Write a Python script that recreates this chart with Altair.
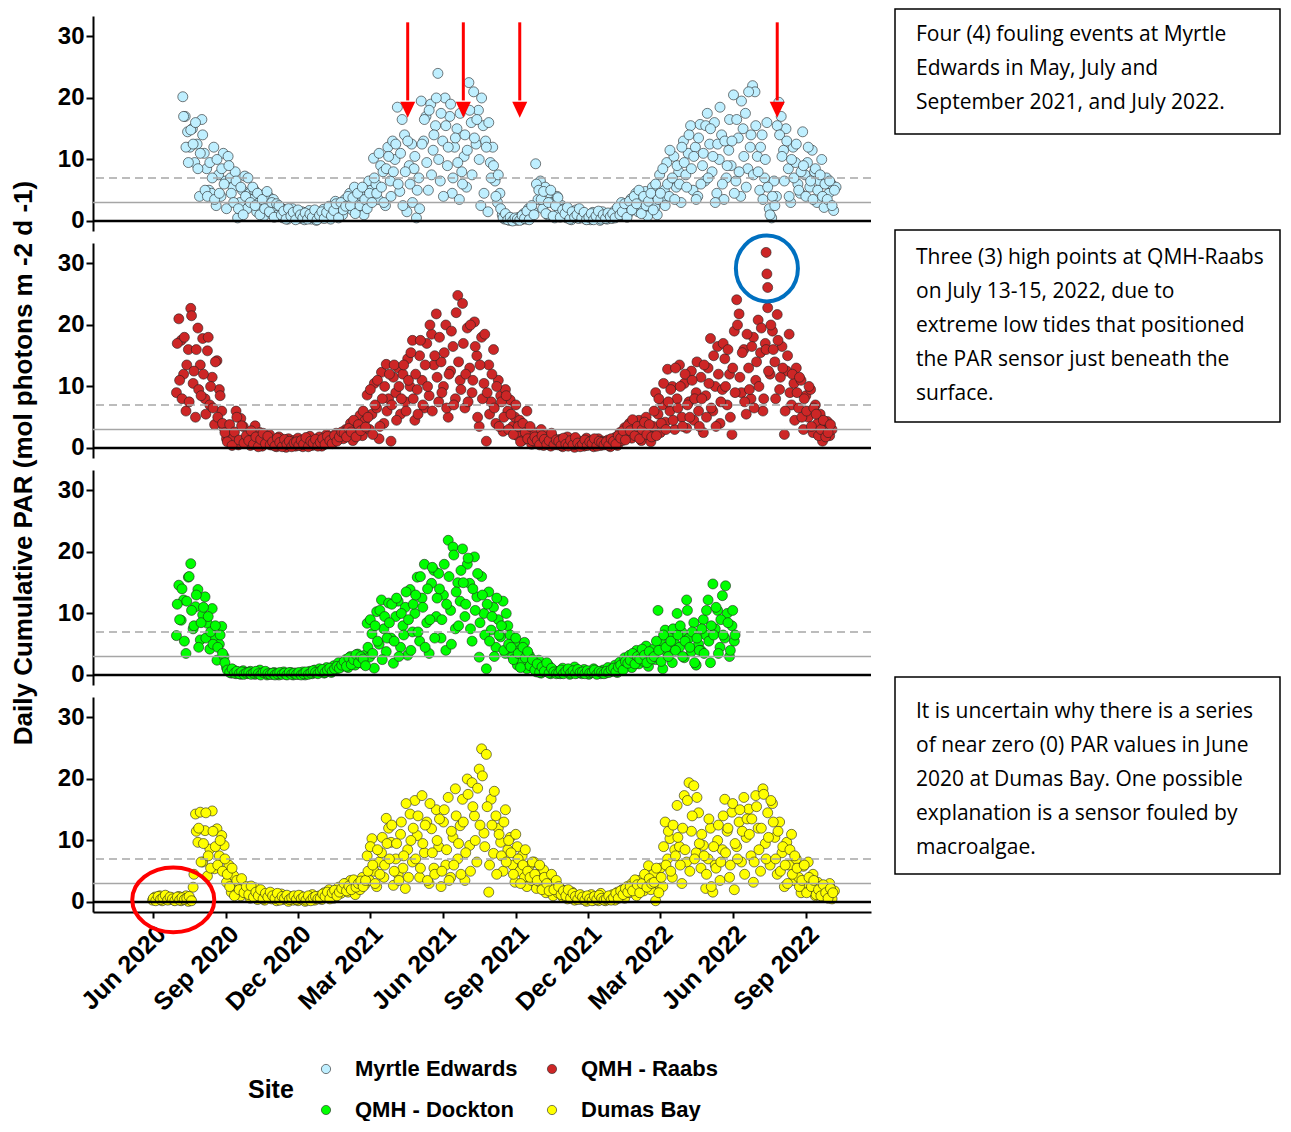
import altair as alt
import pandas as pd

# ---------------- data ----------------
SITES = ["Myrtle Edwards", "QMH - Raabs", "QMH - Dockton", "Dumas Bay"]
COLORS = ["#BFEFFF", "#CD2626", "#00FF00", "#FFFF00"]
# legend is laid out column by column, so this order gives the reference rows
LEGEND_ORDER = ["Myrtle Edwards", "QMH - Dockton", "QMH - Raabs", "Dumas Bay"]
STEP_DAYS = 3

# two interleaved readings per site (series A and series B, one day apart)
ME_START_A = "2020-07-09"
ME_VALUES_A = [
    20.2, 17.0, 14.5, 12.0, 15.0, 9.5, 12.5, 4.0, 16.5, 11.0,
    8.5, 5.0, 4.5, 12.0, 2.5, 7.5, 4.0, 11.0, 6.5, 10.5,
    7.0, 5.5, 8.0, 0.5, 3.0, 5.0, 7.3, 2.0, 4.5, 3.5,
    5.0, 1.5, 3.0, 4.2, 0.8, 2.5, 4.0, 1.2, 3.5, 2.0,
    1.0, 2.2, 0.5, 1.8, 0.3, 1.5, 2.0, 0.6, 1.2, 0.4,
    1.5, 0.2, 0.9, 1.7, 0.3, 1.0, 0.1, 1.4, 0.5, 1.9,
    0.6, 1.1, 0.3, 2.0, 3.2, 1.5, 2.6, 1.0, 3.5, 2.2,
    4.5, 1.8, 5.5, 3.0, 2.0, 4.0, 1.0, 3.2, 6.5, 5.0,
    10.2, 6.0, 3.5, 9.0, 8.0, 2.5, 12.0, 6.5, 13.0, 10.0,
    18.5, 4.8, 16.5, 14.0, 1.5, 9.0, 12.5, 8.5, 0.5, 7.0,
    19.5, 13.0, 17.0, 5.0, 19.0, 11.5, 15.5, 24.0, 6.5, 13.0,
    20.0, 9.0, 17.0, 4.5, 12.0, 15.0, 3.5, 8.0, 10.5, 5.5,
    22.5, 16.0, 21.0, 12.5, 18.0, 2.5, 15.5, 13.0, 1.5, 9.5,
    12.0, 6.5, 3.0, 4.5, 1.0, 0.3, 0.8, 0.1, 0.4, 0.2,
    0.1, 0.6, 0.2, 1.2, 0.3, 2.0, 0.8, 1.5, 9.3, 3.5,
    6.5, 2.0, 5.5, 1.0, 4.5, 3.0, 0.5, 4.0, 1.5, 2.5,
    2.0, 0.5, 1.5, 0.2, 1.0, 1.8, 0.4, 1.2, 0.7, 0.3,
    1.0, 0.2, 1.4, 0.5, 0.9, 0.1, 1.5, 0.6, 0.3, 1.1,
    0.4, 1.6, 0.8, 1.8, 3.0, 0.9, 2.2, 1.3, 3.6, 2.5,
    4.5, 1.5, 3.5, 2.0, 4.8, 0.8, 3.0, 5.5, 2.2, 1.0,
    7.5, 3.5, 5.0, 9.5, 4.0, 6.5, 10.5, 5.5, 8.0, 3.0,
    13.0, 7.5, 11.0, 15.5, 5.0, 12.0, 4.0, 15.7, 9.0, 6.5,
    17.5, 12.5, 8.0, 16.0, 4.5, 10.0, 14.0, 3.5, 7.0, 11.5,
    9.0, 20.5, 6.5, 13.5, 4.0, 15.0, 17.5, 8.5, 12.0, 22.0,
    21.0, 10.5, 5.0, 14.0, 7.0, 16.0, 2.0, 0.5, 6.5, 4.0,
    19.3, 17.0, 11.5, 15.0, 8.5, 3.0, 12.0, 9.5, 6.0, 4.5,
    14.5, 7.5, 9.5, 5.5, 11.5, 8.0, 3.0, 6.5, 10.0, 2.2,
    7.0, 4.5, 6.0, 1.7, 5.5,
]
ME_START_B = "2020-07-10"
ME_VALUES_B = [
    17.0, 12.0, 9.5, 14.8, 12.5, 16.0, 8.5, 11.0, 14.0, 5.0,
    4.0, 9.5, 7.0, 3.5, 10.0, 4.5, 8.5, 6.0, 2.0, 9.0,
    4.5, 3.0, 6.5, 2.0, 5.5, 1.0, 4.0, 7.0, 3.0, 5.5,
    2.5, 4.5, 1.0, 3.5, 2.0, 4.8, 1.5, 3.0, 0.6, 2.8,
    2.5, 1.0, 1.6, 0.3, 2.0, 0.8, 1.4, 0.2, 1.8, 1.0,
    0.5, 1.3, 0.3, 1.1, 0.6, 1.8, 0.2, 0.9, 1.5, 0.4,
    1.4, 2.4, 0.8, 1.7, 2.8, 0.5, 3.0, 1.8, 2.4, 4.0,
    2.5, 3.8, 1.2, 4.5, 2.5, 5.5, 3.5, 2.0, 4.5, 3.0,
    7.0, 4.5, 11.0, 5.5, 3.0, 8.5, 10.5, 4.0, 8.0, 12.5,
    6.0, 11.0, 2.5, 8.0, 13.0, 6.0, 3.0, 10.5, 5.0, 2.0,
    12.5, 16.5, 9.5, 18.0, 7.5, 14.0, 20.0, 10.0, 17.5, 4.0,
    15.5, 12.0, 19.0, 7.0, 13.5, 9.5, 17.5, 6.0, 14.0, 11.5,
    18.0, 7.5, 13.5, 16.5, 10.0, 20.0, 4.5, 12.0, 16.0, 7.0,
    9.0, 4.0, 7.5, 2.0, 0.5, 1.2, 0.2, 0.6, 0.0, 0.5,
    0.3, 0.1, 0.9, 0.4, 1.6, 0.2, 2.5, 1.0, 6.0, 5.0,
    3.5, 4.8, 1.2, 3.0, 5.0, 0.8, 2.5, 3.8, 0.6, 1.8,
    1.2, 2.2, 0.3, 1.5, 0.6, 1.0, 2.0, 0.5, 1.4, 0.2,
    0.6, 1.2, 0.2, 0.8, 1.6, 0.3, 1.0, 0.4, 1.3, 0.7,
    1.2, 0.5, 2.2, 1.0, 1.5, 2.8, 0.6, 3.2, 1.8, 4.0,
    2.8, 5.0, 1.2, 4.0, 2.5, 3.2, 4.5, 1.8, 6.0, 3.5,
    4.5, 8.5, 2.5, 6.0, 11.5, 7.0, 3.5, 9.0, 6.0, 12.0,
    9.5, 5.5, 14.0, 8.5, 10.5, 3.5, 13.5, 6.0, 11.0, 15.5,
    7.0, 15.0, 10.5, 3.0, 12.5, 18.5, 6.0, 13.0, 9.0, 16.5,
    13.0, 4.5, 16.5, 8.0, 19.5, 10.5, 5.5, 21.0, 14.0, 7.5,
    15.5, 8.0, 12.0, 3.5, 10.0, 5.5, 1.0, 4.0, 2.5, 15.5,
    14.0, 10.5, 6.5, 13.0, 4.0, 10.0, 7.0, 12.5, 5.0, 8.0,
    9.0, 4.0, 12.0, 6.5, 3.5, 8.5, 5.0, 7.5, 4.0, 6.0,
    3.5, 6.5, 2.5, 5.0,
]

QR_START_A = "2020-07-01"
QR_VALUES_A = [
    9.0, 21.0, 17.5, 12.0, 6.0, 16.0, 22.7, 10.5, 5.0, 19.5,
    13.5, 17.8, 8.0, 15.8, 7.0, 11.5, 3.8, 14.2, 9.5, 6.0,
    3.2, 1.5, 2.2, 0.8, 1.8, 6.0, 0.5, 4.8, 3.5, 1.2,
    2.0, 0.4, 1.5, 3.6, 0.9, 2.5, 0.3, 1.7, 1.0, 2.2,
    0.5, 1.3, 0.2, 1.8, 0.7, 1.0, 0.1, 1.5, 0.6, 1.2,
    0.3, 1.6, 0.8, 0.2, 1.3, 0.5, 1.9, 0.4, 1.0, 0.7,
    1.8, 0.3, 1.2, 2.2, 0.8, 1.6, 1.0, 2.4, 1.4, 2.0,
    1.5, 3.0, 2.2, 4.0, 1.2, 3.5, 2.6, 5.3, 2.0, 4.4,
    8.6, 3.0, 5.5, 10.5, 6.5, 1.5, 12.3, 4.0, 13.6, 8.0,
    1.1, 11.5, 9.0, 13.0, 5.5, 12.0, 7.5, 14.5, 10.0, 17.5,
    4.5, 9.5, 15.0, 11.0, 6.5, 17.0, 8.5, 18.5, 13.5, 21.8,
    7.5, 14.0, 10.0, 20.0, 5.0, 12.5, 16.5, 8.0, 24.8, 11.0,
    23.5, 6.5, 19.5, 13.0, 9.0, 20.5, 15.0, 3.5, 18.0, 10.5,
    1.1, 13.5, 7.5, 16.0, 4.0, 11.0, 8.5, 2.7, 9.5, 6.0,
    7.8, 3.5, 5.0, 2.0, 4.5, 1.2, 3.0, 6.0, 1.8, 0.6,
    2.5, 0.8, 1.5, 3.0, 0.4, 2.2, 1.0, 0.3, 1.7, 0.9,
    0.5, 1.4, 0.2, 1.1, 1.8, 0.6, 0.9, 0.1, 1.3, 0.7,
    1.0, 0.3, 1.6, 0.5, 1.2, 0.2, 0.8, 1.5, 0.4, 1.1,
    0.6, 1.3, 0.2, 0.9, 1.7, 0.4, 2.5, 1.2, 3.3, 2.0,
    4.0, 1.6, 3.0, 2.2, 4.5, 1.2, 3.6, 5.0, 2.4, 1.0,
    3.5, 9.0, 5.5, 2.5, 7.0, 4.2, 12.8, 6.0, 10.0, 3.0,
    8.0, 13.5, 5.0, 10.5, 3.2, 7.5, 12.5, 4.5, 9.0, 6.0,
    11.5, 2.5, 8.5, 13.0, 17.8, 6.0, 10.0, 16.5, 4.0, 9.5,
    14.5, 7.0, 12.0, 2.2, 19.0, 24.1, 21.8, 9.0, 16.0, 5.5,
    13.0, 8.0, 18.0, 11.0, 20.8, 15.5, 6.0, 17.0, 22.8, 12.0,
    19.0, 14.0, 21.7, 9.5, 16.5, 2.2, 12.5, 18.5, 7.0, 10.5,
    13.0, 6.5, 11.0, 3.0, 8.5, 5.0, 9.5, 2.5, 7.0, 4.0,
    5.5, 1.1, 3.5, 4.3, 2.0, 3.0,
]
QR_START_B = "2020-07-02"
QR_VALUES_B = [
    17.0, 11.0, 8.0, 18.0, 13.5, 7.5, 21.5, 12.5, 16.0, 9.5,
    8.5, 12.0, 5.5, 18.0, 10.0, 6.5, 14.0, 5.0, 8.5, 4.0,
    2.5, 1.0, 3.8, 0.4, 2.6, 5.0, 1.3, 3.6, 0.8, 2.0,
    1.2, 2.8, 0.6, 1.8, 0.2, 1.4, 2.4, 0.7, 1.9, 0.5,
    1.0, 0.3, 1.6, 0.9, 0.2, 1.4, 0.6, 1.1, 0.2, 0.8,
    1.0, 0.4, 1.2, 0.6, 1.7, 0.2, 1.1, 0.8, 1.4, 0.3,
    0.9, 1.5, 0.6, 1.9, 1.2, 0.7, 2.0, 1.1, 1.8, 2.6,
    2.4, 1.8, 3.2, 2.6, 4.5, 1.8, 3.8, 2.8, 6.0, 3.4,
    5.0, 9.5, 2.2, 7.0, 11.0, 3.5, 8.0, 10.0, 6.0, 12.0,
    7.0, 13.5, 4.5, 10.0, 8.0, 13.5, 6.0, 11.0, 15.5, 8.0,
    12.0, 5.5, 17.5, 7.0, 13.5, 10.0, 20.0, 6.0, 15.0, 11.5,
    18.0, 9.0, 15.5, 6.5, 12.0, 19.0, 7.0, 22.0, 14.0, 9.5,
    17.0, 12.0, 7.5, 20.0, 11.0, 16.5, 5.0, 13.5, 8.0, 18.5,
    9.0, 5.5, 12.0, 6.5, 10.0, 3.5, 7.5, 5.0, 8.5, 3.0,
    5.5, 2.2, 7.0, 3.5, 1.0, 4.0, 2.5, 1.5, 3.5, 1.2,
    1.8, 1.2, 0.5, 2.0, 1.4, 0.6, 1.2, 2.4, 0.5, 1.3,
    1.1, 0.4, 1.6, 0.6, 0.3, 1.2, 0.5, 1.7, 0.8, 0.2,
    0.6, 1.3, 0.4, 1.0, 0.7, 1.5, 0.3, 1.1, 0.9, 0.5,
    1.0, 0.4, 1.5, 1.1, 0.6, 2.0, 1.6, 2.8, 1.3, 3.6,
    2.8, 4.6, 2.0, 3.5, 1.5, 3.0, 4.2, 2.2, 3.8, 1.8,
    6.0, 2.0, 8.0, 4.0, 10.5, 3.0, 7.5, 9.5, 4.5, 13.0,
    6.5, 10.0, 3.5, 12.0, 7.0, 5.0, 11.0, 8.0, 14.0, 3.5,
    8.0, 13.5, 5.0, 10.5, 6.5, 15.0, 3.5, 12.0, 7.5, 17.0,
    10.0, 16.0, 5.0, 13.0, 9.0, 20.0, 11.5, 15.5, 7.5, 18.5,
    9.5, 16.5, 6.5, 14.0, 10.0, 19.5, 8.0, 16.0, 12.5, 20.0,
    16.0, 8.0, 17.5, 11.5, 13.0, 6.0, 15.0, 9.0, 12.0, 4.5,
    9.0, 11.5, 5.0, 8.0, 6.0, 10.0, 3.5, 6.5, 5.5, 2.0,
    3.0, 4.5, 1.8, 2.5, 3.8,
]
QR_HIGH_DATES = ["2022-07-13", "2022-07-14", "2022-07-15"]
QR_HIGH_VALUES = [31.8, 28.3, 26.1]

QD_START_A = "2020-07-01"
QD_VALUES_A = [
    6.4, 14.6, 8.9, 12.2, 3.5, 15.9, 18.1, 7.5, 11.1, 13.9,
    5.7, 9.8, 12.7, 8.4, 4.2, 10.8, 6.2, 2.4, 5.0, 7.9,
    3.0, 1.2, 0.6, 0.3, 0.8, 0.2, 0.5, 0.1, 0.7, 0.4,
    0.2, 0.6, 0.3, 0.1, 0.5, 0.8, 0.2, 0.4, 0.0, 0.3,
    0.1, 0.4, 0.2, 0.0, 0.3, 0.5, 0.1, 0.2, 0.4, 0.0,
    0.3, 0.1, 0.2, 0.5, 0.0, 0.3, 0.6, 0.2, 0.8, 0.4,
    1.0, 0.5, 0.3, 1.2, 0.7, 0.4, 1.5, 0.9, 2.0, 1.3,
    1.8, 2.5, 1.2, 3.0, 2.2, 1.6, 3.4, 2.8, 1.9, 3.2,
    8.4, 2.9, 6.7, 1.1, 10.3, 5.0, 12.2, 7.5, 3.8, 11.7,
    6.0, 1.9, 9.5, 12.0, 4.5, 8.0, 11.0, 3.2, 13.9, 7.0,
    10.0, 15.9, 5.5, 12.5, 18.0, 8.5, 3.5, 14.9, 17.0, 9.5,
    16.5, 6.0, 13.0, 4.0, 21.9, 10.5, 20.8, 7.5, 15.0, 12.0,
    20.5, 9.5, 18.0, 14.9, 5.5, 19.2, 12.7, 2.9, 16.0, 10.0,
    1.0, 13.5, 7.3, 11.0, 4.5, 9.0, 6.2, 12.0, 3.5, 8.0,
    6.5, 3.0, 5.0, 1.6, 4.0, 2.2, 5.3, 1.0, 3.2, 2.0,
    1.2, 0.5, 2.4, 0.3, 1.0, 0.6, 1.6, 0.2, 0.8, 0.4,
    0.6, 0.2, 1.1, 0.4, 0.8, 0.1, 0.5, 1.3, 0.3, 0.7,
    0.2, 0.9, 0.4, 0.1, 0.6, 1.0, 0.3, 0.5, 0.2, 0.8,
    0.3, 1.2, 0.5, 0.7, 1.6, 0.4, 2.1, 1.0, 2.8, 1.5,
    3.2, 1.2, 2.6, 4.0, 1.8, 3.6, 2.2, 4.7, 1.4, 3.0,
    4.2, 2.5, 10.5, 5.5, 1.0, 7.3, 3.5, 6.2, 2.0, 5.1,
    10.0, 4.5, 7.0, 2.8, 12.2, 6.0, 3.8, 8.5, 1.6, 5.0,
    4.0, 9.0, 6.5, 12.2, 2.0, 14.8, 7.5, 10.5, 4.5, 12.9,
    6.0, 10.0, 3.0, 8.0, 5.5,
]
QD_START_B = "2020-07-02"
QD_VALUES_B = [
    11.5, 9.0, 14.0, 5.5, 12.0, 16.0, 10.5, 8.0, 13.0, 4.5,
    8.5, 11.0, 6.0, 9.5, 7.0, 5.0, 8.0, 4.5, 6.5, 3.5,
    2.0, 0.8, 0.4, 1.0, 0.3, 0.6, 0.2, 0.5, 0.1, 0.3,
    0.4, 0.1, 0.3, 0.6, 0.2, 0.0, 0.4, 0.6, 0.2, 0.1,
    0.3, 0.0, 0.2, 0.4, 0.1, 0.3, 0.0, 0.4, 0.1, 0.3,
    0.1, 0.4, 0.0, 0.2, 0.5, 0.1, 0.3, 0.7, 0.4, 0.2,
    0.6, 0.9, 0.4, 0.8, 1.1, 0.6, 1.0, 1.4, 1.1, 1.6,
    2.2, 1.4, 2.8, 1.7, 2.5, 3.3, 2.0, 3.0, 2.6, 1.5,
    4.5, 9.0, 3.5, 8.0, 5.5, 10.5, 2.5, 9.5, 6.0, 8.5,
    11.5, 5.5, 12.5, 3.0, 10.0, 6.5, 13.5, 9.0, 4.0, 11.5,
    13.0, 7.0, 16.0, 11.0, 4.5, 14.0, 9.0, 17.5, 6.0, 12.5,
    14.0, 9.0, 18.0, 11.5, 16.0, 5.0, 19.5, 13.5, 8.0, 17.0,
    15.0, 11.5, 19.0, 7.5, 14.0, 10.5, 16.5, 8.5, 13.0, 6.5,
    11.5, 5.5, 9.5, 3.0, 12.5, 6.5, 8.0, 4.0, 10.0, 5.0,
    4.5, 2.5, 6.0, 3.5, 1.2, 4.5, 2.8, 3.8, 1.5, 2.5,
    0.8, 1.8, 0.4, 1.3, 0.6, 2.0, 0.3, 1.1, 0.5, 0.2,
    0.3, 0.8, 0.2, 0.6, 1.0, 0.3, 0.7, 0.2, 0.9, 0.4,
    0.5, 0.2, 0.7, 0.3, 0.4, 0.8, 0.1, 0.6, 0.4, 0.2,
    0.6, 0.4, 0.9, 1.1, 0.5, 1.3, 1.6, 0.8, 2.2, 1.9,
    2.4, 3.5, 1.8, 3.0, 2.6, 4.2, 3.2, 2.0, 3.8, 2.6,
    3.0, 5.5, 4.0, 2.2, 6.5, 4.5, 3.0, 5.5, 7.5, 4.0,
    6.5, 8.0, 3.0, 5.5, 10.5, 4.5, 7.0, 2.0, 6.0, 4.0,
    7.5, 3.5, 10.5, 5.5, 8.0, 6.5, 11.0, 3.5, 9.0, 6.5,
    14.5, 8.5, 4.0, 10.5, 6.5,
]

DB_START_A = "2020-06-01"
DB_VALUES_A = [
    0.3, 0.8, 0.5, 1.0, 0.2, 0.6, 0.9, 0.4, 0.7, 0.3,
    0.5, 0.9, 0.2, 0.6, 1.0, 0.1, 0.4, 2.4, 14.3, 9.7,
    14.6, 6.5, 11.6, 4.2, 8.6, 14.8, 5.4, 11.9, 7.5, 10.8,
    9.2, 3.2, 6.0, 1.6, 4.3, 2.5, 3.0, 1.0, 2.2, 1.5,
    1.8, 0.6, 1.2, 2.3, 0.4, 1.5, 0.9, 0.3, 1.1, 0.7,
    0.5, 1.0, 0.2, 0.8, 1.3, 0.4, 0.6, 0.1, 0.9, 0.3,
    0.7, 0.2, 1.0, 0.4, 0.1, 0.8, 0.5, 1.2, 0.3, 0.6,
    1.0, 0.4, 1.5, 0.8, 2.0, 1.2, 0.6, 1.8, 2.4, 1.4,
    2.2, 3.0, 1.6, 3.5, 2.5, 1.2, 3.2, 2.0, 4.0, 2.8,
    7.5, 3.5, 10.3, 5.0, 2.5, 6.5, 8.0, 4.0, 13.6, 12.0,
    9.7, 2.7, 7.0, 4.5, 11.0, 5.5, 2.2, 8.5, 14.3, 6.5,
    16.5, 10.8, 4.0, 17.3, 8.0, 13.0, 3.0, 11.9, 5.5, 15.0,
    9.0, 2.5, 13.0, 6.0, 17.0, 4.0, 10.5, 18.4, 7.0, 12.4,
    16.7, 3.5, 20.0, 9.2, 19.4, 14.0, 6.5, 21.6, 24.9, 11.2,
    24.0, 1.6, 16.7, 7.9, 14.0, 12.0, 9.7, 5.0, 15.0, 8.5,
    10.5, 6.0, 3.2, 9.0, 5.0, 7.5, 4.0, 2.5, 5.9, 3.5,
    6.5, 2.2, 4.5, 3.0, 5.2, 1.5, 3.8, 2.5, 1.0, 2.8,
    1.5, 2.2, 0.8, 1.8, 0.5, 1.2, 1.6, 0.3, 1.0, 0.6,
    0.4, 0.9, 0.1, 0.6, 1.2, 0.3, 0.8, 0.2, 1.4, 0.5,
    0.2, 0.8, 0.4, 1.2, 0.3, 1.6, 1.0, 2.0, 0.6, 2.5,
    1.5, 3.0, 2.2, 1.0, 3.5, 2.6, 1.8, 3.2, 5.9, 2.0,
    4.5, 0.2, 3.0, 5.5, 2.5, 13.0, 7.0, 10.3, 4.0, 8.5,
    15.7, 9.0, 3.0, 17.3, 6.5, 19.4, 11.5, 18.9, 8.0, 14.5,
    5.5, 9.2, 2.2, 7.0, 12.0, 1.6, 6.0, 10.0, 3.5, 8.5,
    16.7, 11.5, 4.0, 14.6, 2.0, 9.0, 13.0, 6.5, 17.0, 10.5,
    15.1, 7.5, 3.2, 17.3, 12.0, 5.0, 18.4, 9.5, 14.5, 6.0,
    16.0, 10.5, 4.5, 13.0, 8.0, 2.5, 9.7, 6.0, 11.0, 3.5,
    7.0, 4.0, 1.5, 5.8, 3.0, 6.5, 2.0, 4.5, 1.0, 3.2,
    2.5, 0.8, 2.0, 1.2, 3.0, 0.5, 1.8,
]
DB_START_B = "2020-06-02"
DB_VALUES_B = [
    0.6, 0.2, 0.9, 0.4, 0.7, 1.1, 0.3, 0.8, 0.5, 0.2,
    0.8, 0.3, 0.7, 0.4, 0.6, 0.9, 0.2, 4.5, 11.5, 12.0,
    6.5, 9.5, 14.5, 7.5, 5.5, 11.5, 9.0, 6.0, 10.0, 5.0,
    7.0, 4.5, 2.5, 5.5, 1.0, 3.5, 2.0, 3.8, 1.5, 2.5,
    1.2, 2.6, 0.8, 1.6, 1.0, 2.0, 0.5, 1.4, 0.8, 1.6,
    1.0, 0.6, 1.4, 0.3, 0.9, 0.6, 1.1, 0.4, 0.7, 1.0,
    0.4, 1.1, 0.5, 0.8, 0.3, 1.0, 0.2, 0.7, 0.9, 0.5,
    0.6, 1.3, 0.9, 1.6, 0.5, 1.5, 1.9, 1.0, 1.6, 2.2,
    3.0, 1.8, 2.6, 2.0, 3.6, 2.4, 3.0, 3.4, 2.5, 3.5,
    5.0, 9.0, 6.0, 3.0, 8.5, 4.5, 10.5, 6.0, 9.5, 7.0,
    12.5, 5.0, 9.5, 3.5, 13.0, 7.5, 16.0, 4.0, 10.0, 12.0,
    7.0, 14.0, 5.5, 9.5, 12.5, 3.5, 16.0, 8.0, 4.5, 10.0,
    13.5, 5.0, 15.0, 8.5, 3.5, 11.5, 6.0, 14.0, 9.5, 4.5,
    13.0, 8.0, 17.5, 5.0, 15.5, 10.0, 18.5, 12.5, 20.5, 9.0,
    15.5, 6.0, 12.5, 18.0, 4.5, 11.0, 7.5, 13.0, 6.5, 10.0,
    8.0, 4.5, 11.0, 7.0, 3.0, 6.0, 8.5, 5.0, 4.0, 6.5,
    4.5, 3.5, 6.0, 2.0, 4.0, 3.0, 1.8, 4.5, 2.0, 3.5,
    2.5, 1.2, 1.8, 1.0, 2.0, 0.6, 1.4, 0.9, 0.4, 1.2,
    0.8, 0.3, 1.0, 0.5, 0.2, 0.9, 0.4, 1.1, 0.6, 0.3,
    0.5, 1.0, 0.3, 0.7, 1.4, 0.6, 1.8, 1.2, 2.2, 1.6,
    2.5, 1.8, 3.6, 2.8, 1.5, 3.0, 4.5, 2.4, 3.8, 3.0,
    3.2, 5.5, 1.5, 4.0, 9.0, 6.0, 11.5, 5.0, 12.5, 7.5,
    10.5, 6.0, 12.0, 8.5, 16.5, 5.0, 14.0, 7.0, 17.0, 9.5,
    11.0, 7.5, 4.5, 13.5, 2.5, 9.0, 5.5, 12.5, 6.5, 14.0,
    8.0, 12.0, 6.0, 16.0, 9.5, 7.0, 15.0, 11.5, 4.5, 13.5,
    11.0, 13.5, 6.5, 15.5, 8.5, 12.0, 17.5, 7.0, 10.5, 16.5,
    13.0, 7.0, 11.5, 5.0, 9.0, 6.0, 3.0, 8.5, 4.5, 7.5,
    5.5, 2.5, 3.5, 6.0, 1.5, 4.0, 2.5, 3.5, 1.2, 2.0,
    1.0, 2.8, 1.5, 0.6, 2.2, 1.5,
]

REF_SOLID = 3
REF_DASHED = 7
FOULING_DATES = ["2021-04-18", "2021-06-27", "2021-09-06", "2022-07-27"]
HIGHLIGHT_DATE = "2022-07-14"
FOULED_DATE = "2020-06-27"

BOX1 = ["Four (4) fouling events at Myrtle", "Edwards in May, July and",
        "September 2021, and July 2022."]
BOX2 = ["Three (3) high points at QMH-Raabs", "on July 13-15, 2022, due to",
        "extreme low tides that positioned", "the PAR sensor just beneath the",
        "surface."]
BOX3 = ["It is uncertain why there is a series", "of near zero (0) PAR values in June",
        "2020 at Dumas Bay. One possible", "explanation is a sensor fouled by",
        "macroalgae."]
Y_TITLE = "Daily Cumulative PAR (mol photons m -2 d -1)"
TICK_DATES = [(2020, 6), (2020, 9), (2020, 12), (2021, 3), (2021, 6), (2021, 9),
              (2021, 12), (2022, 3), (2022, 6), (2022, 9)]


def series(site, start, values):
    dates = pd.date_range(start, periods=len(values), freq=f"{STEP_DAYS}D")
    return pd.DataFrame({"date": dates.strftime("%Y-%m-%d"), "par": values, "site": site})


me = pd.concat([series(SITES[0], ME_START_A, ME_VALUES_A),
                series(SITES[0], ME_START_B, ME_VALUES_B)])
qr = pd.concat([series(SITES[1], QR_START_A, QR_VALUES_A),
                series(SITES[1], QR_START_B, QR_VALUES_B),
                pd.DataFrame({"date": QR_HIGH_DATES, "par": QR_HIGH_VALUES, "site": SITES[1]})])
qd = pd.concat([series(SITES[2], QD_START_A, QD_VALUES_A),
                series(SITES[2], QD_START_B, QD_VALUES_B)])
db = pd.concat([series(SITES[3], DB_START_A, DB_VALUES_A),
                series(SITES[3], DB_START_B, DB_VALUES_B)])

# ---------------- styling ----------------
FONT = "Liberation Sans"
BOX_FONT = "Open Sans"
W, H = 778, 215

x_scale = alt.Scale(domain=[alt.DateTime(year=2020, month=3, date=18),
                            alt.DateTime(year=2022, month=11, date=22)])
y_scale = alt.Scale(domain=[-1.63, 33.33], nice=False, zero=False)
color_scale = alt.Scale(domain=LEGEND_ORDER,
                        range=[COLORS[SITES.index(s)] for s in LEGEND_ORDER])

x_axis = alt.Axis(values=[alt.DateTime(year=y, month=m, date=1) for y, m in TICK_DATES],
                  format="%b %Y", title=None, labelAngle=-45, labelAlign="right",
                  labelBaseline="top", labelFontSize=25, labelFontWeight="bold",
                  labelFont=FONT, labelColor="black", labelPadding=3,
                  labelOverlap=False, labelBound=False, labelFlush=False,
                  tickSize=6, tickWidth=2, tickColor="black",
                  domainColor="black", domainWidth=2, grid=False)
y_axis = alt.Axis(values=[0, 10, 20, 30], title=None, labelFontSize=24,
                  labelFontWeight="bold", labelFont=FONT, labelColor="black",
                  labelPadding=2, tickSize=7, tickWidth=2, tickColor="black",
                  labelOverlap=False, domainColor="black", domainWidth=2, grid=False)

legend = alt.Legend(title="Site", orient="none", legendX=155, legendY=1042,
                    columns=2, titleOrient="left", titleAnchor="middle",
                    titleBaseline="middle", titleFontSize=25, titleFont=FONT,
                    titleFontWeight="bold", titleColor="black", titlePadding=21,
                    labelFontSize=22, labelFont=FONT, labelFontWeight="bold",
                    labelColor="black", labelOffset=18, labelLimit=400,
                    symbolSize=85, symbolType="circle", symbolStrokeColor="#222",
                    symbolStrokeWidth=0.6, rowPadding=19, columnPadding=23,
                    padding=0)


def one(v):
    return pd.DataFrame({"k": [v]})


def panel(df, show_x, extras):
    xa = x_axis if show_x else None
    pts = alt.Chart(df).mark_point(filled=True, size=100, opacity=1, stroke="#222",
                                   strokeWidth=0.6).encode(
        x=alt.X("date:T", scale=x_scale, axis=xa),
        y=alt.Y("par:Q", scale=y_scale, axis=y_axis),
        color=alt.Color("site:N", scale=color_scale, legend=legend),
    )
    zero = alt.Chart(one(0)).mark_rule(color="black", strokeWidth=2.5).encode(
        y=alt.Y("k:Q", scale=y_scale, axis=y_axis))
    solid = alt.Chart(one(REF_SOLID)).mark_rule(color="#A6A6A6", strokeWidth=1.6).encode(
        y=alt.Y("k:Q", scale=y_scale, axis=y_axis))
    dashed = alt.Chart(one(REF_DASHED)).mark_rule(color="#A6A6A6", strokeWidth=1.6,
                                                  strokeDash=[8, 5]).encode(
        y=alt.Y("k:Q", scale=y_scale, axis=y_axis))
    return alt.layer(pts, solid, dashed, zero, *extras).properties(width=W, height=H)


def text_box(x1, x2, y1, y2, lines, baseline_y):
    box = alt.Chart(one(0)).mark_rect(fill="white", stroke="black", strokeWidth=1.5).encode(
        x=alt.value(x1), x2=alt.value(x2), y=alt.value(y1), y2=alt.value(y2))
    txt = alt.Chart(one(0)).mark_text(align="left", baseline="alphabetic", font=BOX_FONT,
                                      fontSize=21, lineHeight=34, color="black").encode(
        x=alt.value(x1 + 21), y=alt.value(baseline_y), text=alt.value(lines))
    return [box, txt]


# arrows for fouling events (panel 1)
arrow_df = pd.DataFrame({"date": FOULING_DATES, "top": 32.3, "base": 19.6, "head": 18.1})
shaft = alt.Chart(arrow_df).mark_rule(color="red", strokeWidth=3).encode(
    x=alt.X("date:T", scale=x_scale, axis=None),
    y=alt.Y("top:Q", scale=y_scale, axis=y_axis), y2="base:Q")
head = alt.Chart(arrow_df).mark_point(shape="M-0.94,-1L0.94,-1L0,1Z", filled=True,
                                      color="red", size=256, opacity=1, strokeWidth=0).encode(
    x=alt.X("date:T", scale=x_scale, axis=None),
    y=alt.Y("head:Q", scale=y_scale, axis=y_axis))

ytitle = alt.Chart(one(0)).mark_text(angle=270, align="center", baseline="middle",
                                     font=FONT, fontSize=26, fontWeight="bold",
                                     color="black").encode(
    x=alt.value(-69), y=alt.value(447), text=alt.value(Y_TITLE))

# blue circle (panel 2)
circ = alt.Chart(pd.DataFrame({"date": [HIGHLIGHT_DATE], "v": [29.2]})).mark_point(
    shape="M0,-1A0.94,1,0,1,1,0,1A0.94,1,0,1,1,0,-1Z", filled=False, stroke="#0070C0",
    strokeWidth=4, size=4356, opacity=1).encode(
    x=alt.X("date:T", scale=x_scale, axis=None),
    y=alt.Y("v:Q", scale=y_scale, axis=y_axis))

# red ellipse (panel 4)
ell = alt.Chart(pd.DataFrame({"date": [FOULED_DATE], "v": [0.35]})).mark_point(
    shape="M-1,0A1,0.79,0,1,1,1,0A1,0.79,0,1,1,-1,0Z", filled=False, stroke="#FF0000",
    strokeWidth=4, size=6724, opacity=1).encode(
    x=alt.X("date:T", scale=x_scale, axis=x_axis),
    y=alt.Y("v:Q", scale=y_scale, axis=y_axis))

p1 = panel(me, False, [shaft, head, ytitle] + text_box(802, 1187, -7, 118, BOX1, 25))
p2 = panel(qr, False, [circ] + text_box(802, 1187, -13, 179, BOX2, 21))
p3 = panel(qd, False, [])
p4 = panel(db, True, [ell] + text_box(802, 1187, -20, 177, BOX3, 21))

chart = alt.vconcat(p1, p2, p3, p4, spacing=12, bounds="flush").resolve_scale(
    color="shared").resolve_legend(color="shared").properties(
    autosize=alt.AutoSizeParams(type="pad"),
    padding={"left": 2, "top": 0, "right": 0, "bottom": 0}
).configure_view(stroke=None)

chart.save("out.html", embed_options={"renderer": "svg", "actions": False})
